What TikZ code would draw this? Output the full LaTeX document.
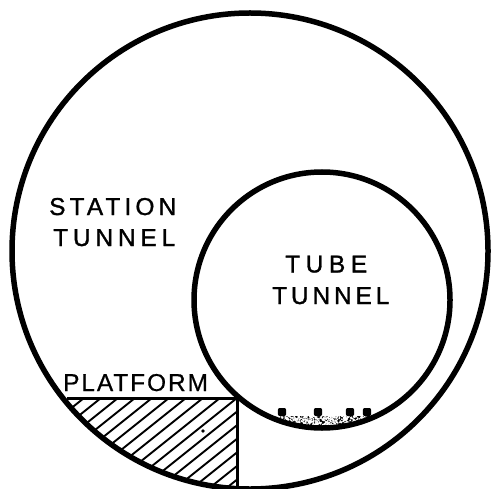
\documentclass[tikz,border=0pt]{standalone}
\usepackage{fontspec}
\setmainfont{Liberation Sans}
\newfontfamily\lblA[LetterSpace=17,FakeBold=1.2]{Liberation Sans}
\newfontfamily\lblB[LetterSpace=20,FakeBold=1.2]{Liberation Sans}
\newfontfamily\lblC[LetterSpace=23,FakeBold=1.2]{Liberation Sans}
\newfontfamily\lblD[LetterSpace=16,FakeBold=1.2]{Liberation Sans}
\newfontfamily\lblE[LetterSpace=8,FakeBold=0.6]{Liberation Sans}
\begin{document}
\begin{tikzpicture}[x=1bp,y=-1bp,
  ring/.style={draw=black,line width=5.5bp},
  plat/.style={draw=black,line width=3bp},
  hatchline/.style={draw=black,line width=1.9bp},
  lab/.style={inner sep=0pt,anchor=base west}]
\useasboundingbox (0,0) rectangle (491,489);
\fill[white] (0,0) rectangle (491,489);
\coordinate (oc) at (250,251);
\coordinate (ic) at (322,300);
% hatching
\begin{scope}
  \clip (68,398) rectangle (237,489);
  \clip (oc) circle (238);
  \foreach \k in {0,...,15}{
    \pgfmathsetmacro{\xs}{84+\k*17}
    \draw[hatchline] (\xs,398) -- ++(-130,104);
  }
  \fill[black] (203,431) circle (1.8);
\end{scope}
% ballast
\begin{scope}
  \clip (ic) circle (128);
  \fill[black] (271,415.5) rectangle (373,440);
  \pgfmathsetseed{7}
  \begin{scope}
    \clip (271,413.5) rectangle (373,425.5);
    \foreach \i in {1,...,620}{
      \pgfmathsetmacro{\dx}{271+rnd*102}
      \pgfmathsetmacro{\dy}{413.5+rnd*12}
      \fill[white] (\dx,\dy) circle (1.0);
    }
  \end{scope}
\end{scope}
\foreach \sx in {282,318,350,367}{
  \fill[black,rounded corners=2bp] (\sx-4.2,416) rectangle (\sx+4.2,408);
}
% circles
\draw[ring] (oc) circle (238);
\draw[ring] (ic) circle (128);
% platform
\coordinate (pl) at (67,398);
\coordinate (pc) at (237,398);
\coordinate (pb) at (237,488);
\draw[plat] (pl) -- (pc) -- (pb);
% labels
\node[lab,font=\lblA\fontsize{24.5}{28}\selectfont] (station) at (49,215) {STATION};
\node[lab,font=\lblB\fontsize{24.5}{28}\selectfont] (tunnela) at (53,246) {TUNNEL};
\node[lab,font=\lblC\fontsize{24.5}{28}\selectfont] (tube) at (285,272.5) {TUBE};
\node[lab,font=\lblD\fontsize{24.5}{28}\selectfont] (tunnelb) at (272,304) {TUNNEL};
\node[lab,font=\lblE\fontsize{24.5}{28}\selectfont] (platform) at (63,391) {PLATFORM};
\end{tikzpicture}
\end{document}
